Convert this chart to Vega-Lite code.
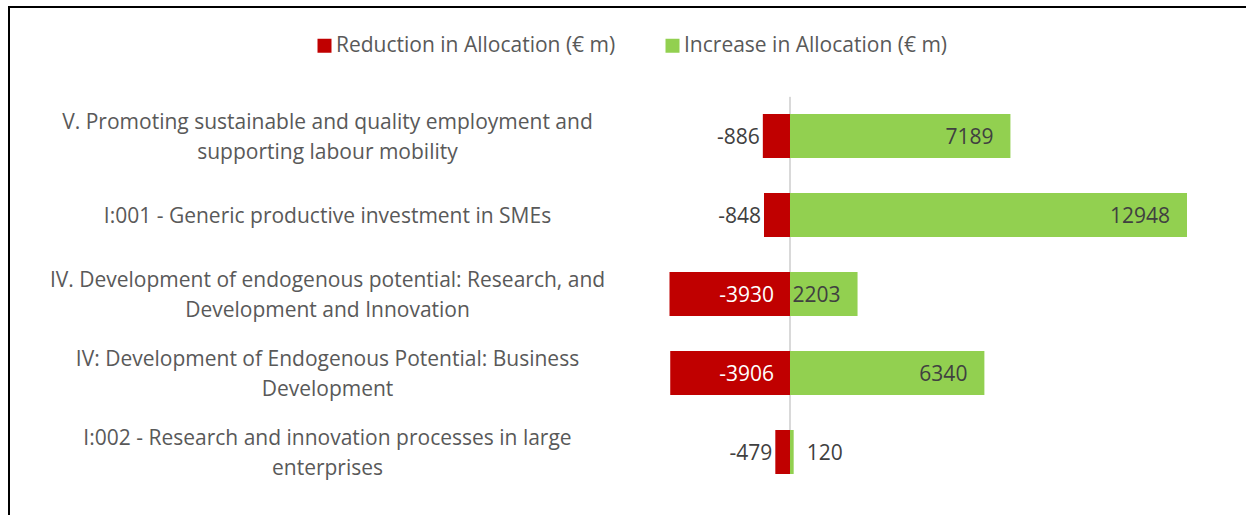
{
  "$schema": "https://vega.github.io/schema/vega-lite/v6.json",
  "autosize": "none",
  "padding": {"left": 9, "top": 7, "right": 0, "bottom": 0},
  "width": 1238,
  "height": 509,
  "background": "white",
  "config": {"view": {"stroke": "#000000", "strokeWidth": 2}, "font": "Open Sans"},
  "data": {
    "values": [
      {"category": "V. Promoting sustainable and quality employment and|supporting labour mobility", "type": "Reduction in Allocation (€ m)", "value": -886},
      {"category": "V. Promoting sustainable and quality employment and|supporting labour mobility", "type": "Increase in Allocation (€ m)", "value": 7189},
      {"category": "I:001 - Generic productive investment in SMEs", "type": "Reduction in Allocation (€ m)", "value": -848},
      {"category": "I:001 - Generic productive investment in SMEs", "type": "Increase in Allocation (€ m)", "value": 12948},
      {"category": "IV. Development of endogenous potential: Research, and|Development and Innovation", "type": "Reduction in Allocation (€ m)", "value": -3930},
      {"category": "IV. Development of endogenous potential: Research, and|Development and Innovation", "type": "Increase in Allocation (€ m)", "value": 2203},
      {"category": "IV: Development of Endogenous Potential: Business|Development", "type": "Reduction in Allocation (€ m)", "value": -3906},
      {"category": "IV: Development of Endogenous Potential: Business|Development", "type": "Increase in Allocation (€ m)", "value": 6340},
      {"category": "I:002 - Research and innovation processes in large|enterprises", "type": "Reduction in Allocation (€ m)", "value": -479},
      {"category": "I:002 - Research and innovation processes in large|enterprises", "type": "Increase in Allocation (€ m)", "value": 120}
    ]
  },
  "layer": [
    {
      "transform": [{"filter": "datum.value > 0"}],
      "mark": {"type": "rule", "orient": "vertical", "color": "#D9D9D9", "strokeWidth": 2},
      "encoding": {
        "x": {"datum": 0, "type": "quantitative"},
        "y": {"field": "category", "type": "nominal", "sort": null, "axis": null,
              "scale": {"paddingInner": 0, "paddingOuter": 0.7215, "align": 0.789}}
      }
    },
    {
      "encoding": {
        "y": {
          "field": "category", "type": "nominal", "sort": null,
          "scale": {"paddingInner": 0.443, "paddingOuter": 0.943, "align": 0.718},
          "axis": {
            "title": null, "domain": false, "ticks": false, "grid": false,
            "labelAlign": "center", "labelBaseline": "middle",
            "offset": -318, "labelPadding": 0,
            "labelFontSize": 21, "labelColor": "#595959", "labelLimit": 0,
            "labelLineHeight": 30, "labelExpr": "split(datum.label, '|')",
            "labelOffset": {"condition": {"test": "indexof(datum.value, '|') >= 0", "value": -13}, "value": 2}
          }
        }
      },
      "layer": [
        {
          "mark": {"type": "bar"},
          "encoding": {
            "x": {"field": "value", "type": "quantitative", "stack": null,
                  "scale": {"domain": [-25472, 14905], "nice": false}, "axis": null},
            "color": {
              "field": "type", "type": "nominal",
              "scale": {"domain": ["Reduction in Allocation (€ m)", "Increase in Allocation (€ m)"], "range": ["#C00000", "#92D050"]},
              "legend": {
                "title": null, "orient": "none", "legendX": 305, "legendY": 28,
                "direction": "horizontal", "symbolType": "square", "symbolSize": 196,
                "symbolStrokeWidth": 0, "labelFontSize": 21, "labelColor": "#595959",
                "labelOffset": 1, "columnPadding": 46, "labelLimit": 0
              }
            }
          }
        },
        {
          "transform": [{"filter": "datum.value < -2000"}],
          "mark": {"type": "text", "align": "right", "baseline": "middle", "dx": -16, "dy": 2, "fontSize": 21, "color": "#FFFFFF"},
          "encoding": {"x": {"datum": 0, "type": "quantitative"}, "text": {"field": "value", "type": "nominal"}}
        },
        {
          "transform": [{"filter": "datum.value < 0 && datum.value >= -2000"}],
          "mark": {"type": "text", "align": "right", "baseline": "middle", "dx": -3, "dy": 2, "fontSize": 21, "color": "#404040"},
          "encoding": {"x": {"field": "value", "type": "quantitative"}, "text": {"field": "value", "type": "nominal"}}
        },
        {
          "transform": [{"filter": "datum.value >= 1000"}],
          "mark": {"type": "text", "align": "right", "baseline": "middle", "dx": -17, "dy": 2, "fontSize": 21, "color": "#404040"},
          "encoding": {"x": {"field": "value", "type": "quantitative"}, "text": {"field": "value", "type": "nominal"}}
        },
        {
          "transform": [{"filter": "datum.value > 0 && datum.value < 1000"}],
          "mark": {"type": "text", "align": "left", "baseline": "middle", "dx": 13, "dy": 2, "fontSize": 21, "color": "#404040"},
          "encoding": {"x": {"field": "value", "type": "quantitative"}, "text": {"field": "value", "type": "nominal"}}
        }
      ]
    }
  ],
  "resolve": {"scale": {"y": "independent"}}
}
